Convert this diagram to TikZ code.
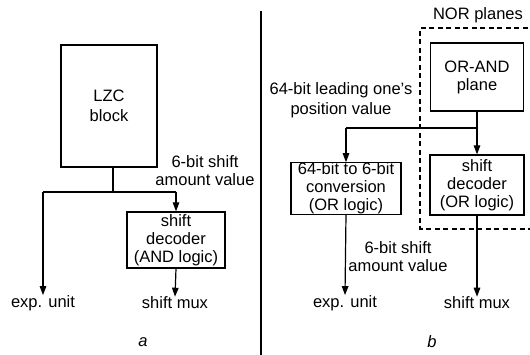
\documentclass[tikz,border=0pt]{standalone}
\usepackage{fontspec}
\setmainfont{Liberation Sans}
\usetikzlibrary{arrows.meta}
\begin{document}
\begin{tikzpicture}[x=1pt,y=-1pt,
  every node/.style={font=\fontsize{16.5}{18}\selectfont, inner sep=0pt},
  wide/.style={font=\fontsize{16.5}{20}\selectfont},
  blk/.style={draw, line width=1.2pt, align=center, minimum width=#1},
  lbl/.style={align=center},
  wire/.style={line width=1.2pt},
  arr/.style={line width=1.2pt, -{Triangle[length=9pt,width=6.5pt]}},
  dsh/.style={line width=1.1pt, dash pattern=on 5pt off 3.5pt}]
\useasboundingbox (0,0) rectangle (530,355);
% ---- part a ----
\node[blk=96pt, minimum height=122pt, wide] (lzc) at (109,106) {LZC\\block};
\node[blk=98pt, minimum height=56pt] (dec1) at (176,240) {shift\\decoder\\(AND logic)};
\node[lbl] (exp1) at (43,303) {exp. unit};
\node[lbl] (mux1) at (175,303) {shift mux};
\node[lbl] (amt1) at (205,171) {6-bit shift\\amount value};
\node (a) at (143,342) {\itshape a};
\coordinate (j1) at (113,192);
\coordinate (jl) at (43,192);
\coordinate (jr) at (176,192);
\draw[wire] (lzc.south -| j1) -- (j1);
\draw[wire] (jl) -- (jr);
\draw[arr] (jl) -- (exp1.north);
\draw[arr] (jr) -- (dec1.north);
\draw[arr] (dec1.south) -- (mux1.north);
% divider
\coordinate (dtop) at (261,11);
\coordinate (dbot) at (261,355);
\draw[line width=1.1pt] (dtop) -- (dbot);
% ---- part b ----
\node[lbl] (nor) at (478,15) {NOR planes};
\coordinate (d1) at (536,28);
\coordinate (d2) at (420,28);
\coordinate (d3) at (420,229);
\coordinate (d4) at (536,229);
\draw[dsh] (d1) -- (d2) -- (d3) -- (d4);
\node[blk=93pt, minimum height=68pt] (orand) at (477,77) {OR-AND\\plane};
\node[blk=94pt, minimum height=60pt] (dec2) at (477,185) {shift\\decoder\\(OR logic)};
\node[blk=110pt, minimum height=51pt] (conv) at (346,188.5) {64-bit to 6-bit\\conversion\\(OR logic)};
\node[lbl, wide] (pos) at (341,100) {64-bit leading one's\\position value};
\node[lbl] (exp2) at (345,303) {exp. unit};
\node[lbl] (mux2) at (477,303) {shift mux};
\node[lbl] (amt2) at (398,257) {6-bit shift\\amount value};
\node (b) at (432,342) {\itshape b};
\coordinate (j2) at (477,128);
\coordinate (j3) at (346,128);
\draw[arr] (orand.south) -- (dec2.north);
\draw[wire] (j2) -- (j3);
\draw[arr] (j3) -- (conv.north);
\draw[arr] (conv.south) -- (exp2.north);
\draw[arr] (dec2.south) -- (mux2.north);
\end{tikzpicture}
\end{document}
